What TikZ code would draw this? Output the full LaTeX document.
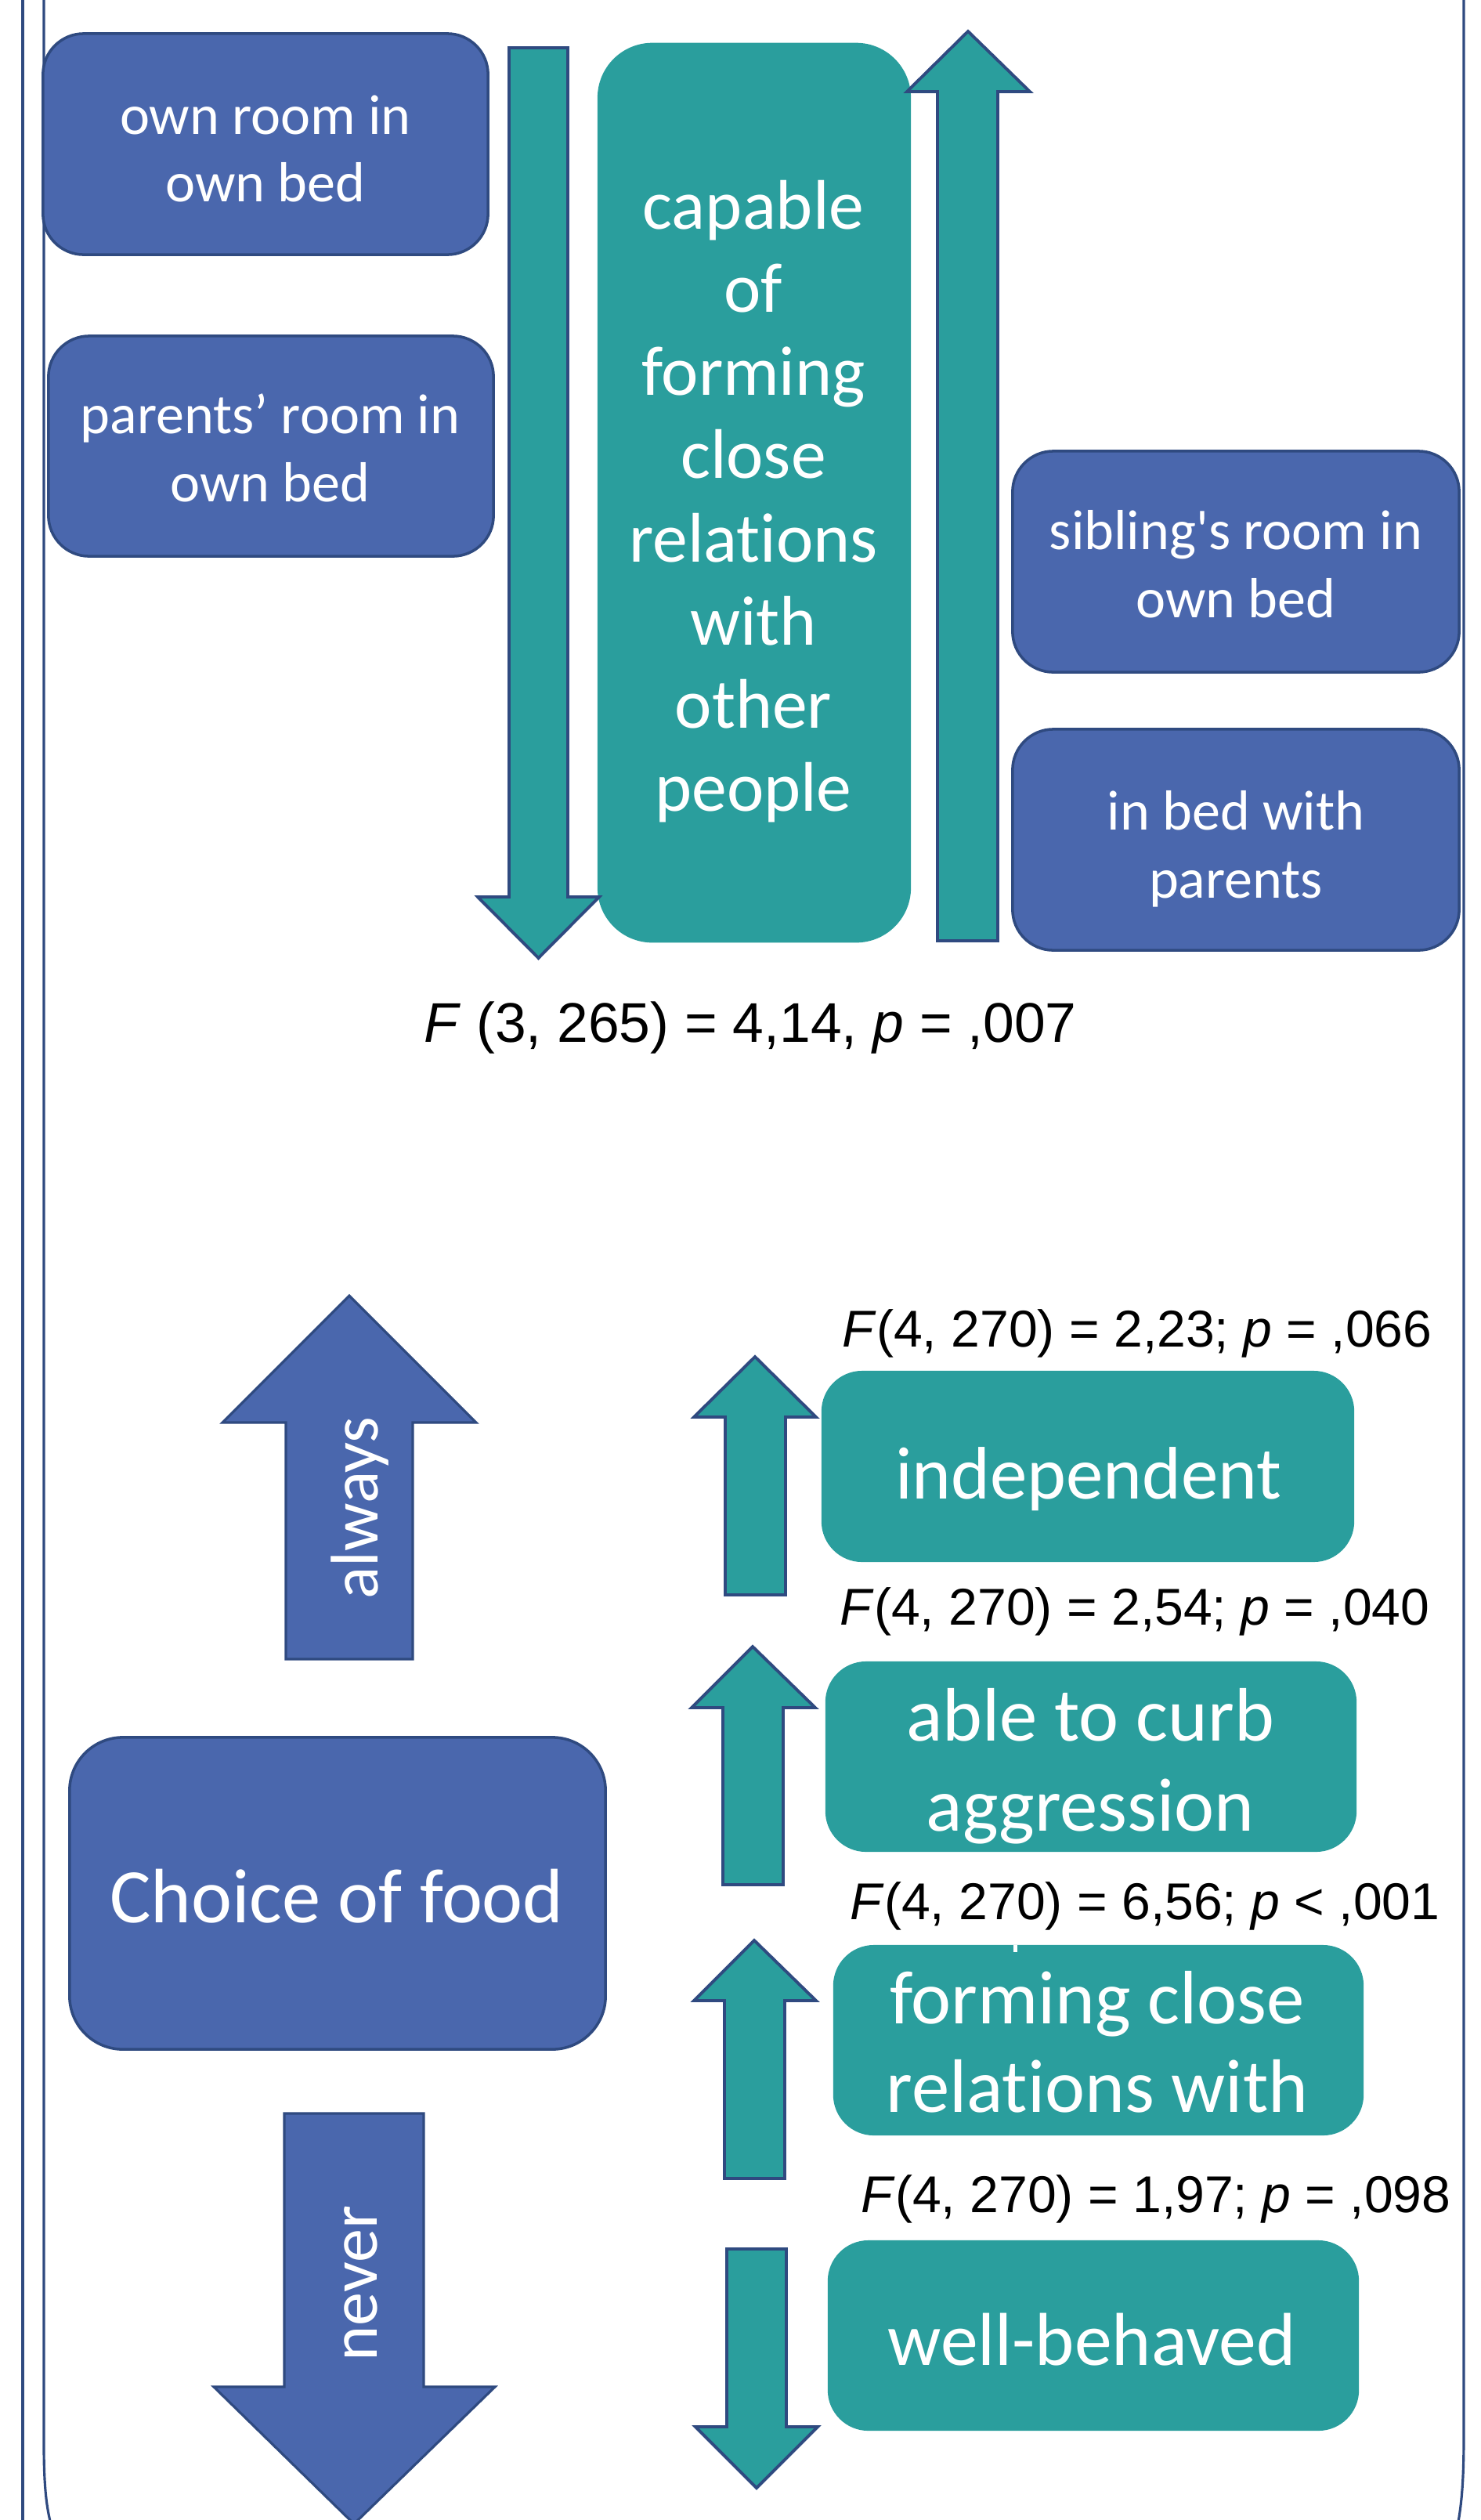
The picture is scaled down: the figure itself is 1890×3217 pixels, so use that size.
\documentclass[tikz,border=0pt]{standalone}
\usepackage{fontspec}
\setmainfont{Carlito}[Ligatures={NoCommon}]
\newfontfamily\arialf{Liberation Sans}
\definecolor{boxblue}{RGB}{74,103,173}
\definecolor{tealc}{RGB}{42,158,157}
\definecolor{edgec}{RGB}{47,74,128}
\tikzset{
  bluebox/.style={draw=edgec, line width=1pt, fill=boxblue, rounded corners=0.52cm, inner sep=0pt},
  tealbox/.style={fill=tealc, rounded corners=0.52cm, inner sep=0pt},
  boxtext/.style={text=white, align=center, inner sep=0pt},
  stat/.style={inner sep=0pt, anchor=base west, text=black},
  tealarrow/.style={draw=edgec, line width=1.1pt, fill=tealc, line join=miter},
  bluearrow/.style={draw=edgec, line width=0.9pt, fill=boxblue, line join=miter},
  frameline/.style={draw=edgec, line width=0.9pt}
}
\newcommand{\fs}[2]{\fontsize{#1pt}{#2pt}\selectfont}
\begin{document}
\begin{tikzpicture}[x=0.01cm, y=-0.01cm]
\useasboundingbox (0,0) rectangle (1890,3217);
% frame
\draw[frameline] (29,-10) -- (29,3230);
\draw[frameline] (56,-10) -- (56,3120) .. controls (56,3180) and (60,3205) .. (67,3230);
\draw[frameline] (1869,-10) -- (1869,3110) .. controls (1869,3170) and (1866,3200) .. (1860,3230);

% top part boxes
\node[bluebox, minimum width=5.68cm, minimum height=2.82cm] (own) at (339,184) {};
\node[boxtext, font=\fs{20.5}{24.7}] (ownT) at (339,190) {own room in\\own bed};
\node[bluebox, minimum width=5.68cm, minimum height=2.81cm] (par) at (346,569.5) {};
\node[boxtext, font=\fs{20.5}{24.7}] (parT) at (345,572) {parents’ room in\\own bed};
\node[tealbox, rounded corners=0.7cm, minimum width=4.00cm, minimum height=11.48cm] (cap) at (963,629) {};
\node[boxtext, font=\fs{25.5}{30.2}] (capT) at (962,640) {capable\\of\\forming\\close\\relations\\with\\other\\people};
\node[bluebox, minimum width=5.70cm, minimum height=2.82cm] (sib) at (1578,717) {};
\node[boxtext, font=\fs{20.5}{24.7}] (sibT) at (1578,720) {sibling\textquotesingle s room in\\own bed};
\node[bluebox, minimum width=5.70cm, minimum height=2.82cm] (bed) at (1578,1072) {};
\node[boxtext, font=\fs{20.5}{24.7}] (bedT) at (1578,1084) {in bed with\\parents};

% top arrows
\draw[tealarrow] (650,61) -- (725,61) -- (725,1145) -- (765,1145) -- (687.5,1223) -- (610,1145) -- (650,1145) -- cycle;
\draw[tealarrow] (1197,1201) -- (1274,1201) -- (1274,117) -- (1315,117) -- (1236,40) -- (1158,117) -- (1197,117) -- cycle;

\node[stat, font=\arialf\fs{20.3}{24}] (f1) at (541,1330) {\textit{F} (3, 265) = 4,14, \textit{p} = ,007};

% bottom part
\draw[bluearrow] (365,2118) -- (527,2118) -- (527,1816) -- (608,1816) -- (446,1654) -- (284,1816) -- (365,1816) -- cycle;
\node[boxtext, rotate=90, font=\fs{24.5}{28}] (alw) at (460,1925) {always};
\node[bluebox, rounded corners=0.68cm, minimum width=6.84cm, minimum height=3.98cm] (cho) at (431,2417) {};
\node[boxtext, font=\fs{28}{32}] (choT) at (430,2421) {Choice of food};
\draw[bluearrow] (363,2698) -- (541,2698) -- (541,3047) -- (632,3047) -- (452,3222) -- (273,3047) -- (363,3047) -- cycle;
\node[boxtext, rotate=90, font=\fs{24.5}{28}] (nev) at (461,2915) {never};

% right column
\node[stat, font=\arialf\fs{18.8}{22}] (f2) at (1075,1719) {\textit{F}(4, 270) = 2,23; \textit{p} = ,066};
\node[tealbox, minimum width=6.80cm, minimum height=2.44cm] (ind) at (1389,1872) {};
\node[boxtext, font=\fs{27}{32}] (indT) at (1390,1888) {independent};
\draw[tealarrow] (926,2036) -- (1003,2036) -- (1003,1809) -- (1042,1809) -- (964,1732) -- (886,1809) -- (926,1809) -- cycle;

\node[stat, font=\arialf\fs{18.8}{22}] (f3) at (1072,2074) {\textit{F}(4, 270) = 2,54; \textit{p} = ,040};
\node[tealbox, minimum width=6.78cm, minimum height=2.43cm] (curb) at (1393,2242.5) {};
\node[boxtext, font=\fs{27.5}{32.7}] (curbT) at (1392,2255) {able to curb\\aggression};
\draw[tealarrow] (923,2406) -- (1000,2406) -- (1000,2180) -- (1041,2180) -- (961,2102) -- (883,2180) -- (923,2180) -- cycle;

\node[stat, font=\arialf\fs{18.8}{22}] (f4) at (1085,2450) {\textit{F}(4, 270) = 6,56; \textit{p} < ,001};
\node[tealbox, minimum width=6.77cm, minimum height=2.43cm] (form) at (1402.5,2604.5) {};
\fill[white] (1294,2483) rectangle (1299,2492);
\node[boxtext, font=\fs{27.5}{32.2}] (formT) at (1401,2607) {forming close\\relations with};
\draw[tealarrow] (925,2781) -- (1002,2781) -- (1002,2554) -- (1042,2554) -- (963,2477) -- (886,2554) -- (925,2554) -- cycle;

\node[stat, font=\arialf\fs{18.8}{22}] (f5) at (1099,2824) {\textit{F}(4, 270) = 1,97; \textit{p} = ,098};
\node[tealbox, minimum width=6.78cm, minimum height=2.43cm] (well) at (1396,2981.5) {};
\node[boxtext, font=\fs{27.2}{32}] (wellT) at (1394,2987) {well-behaved};
\draw[tealarrow] (928,2871) -- (1004,2871) -- (1004,3098) -- (1044,3098) -- (966,3176) -- (888,3098) -- (928,3098) -- cycle;
\end{tikzpicture}
\end{document}
